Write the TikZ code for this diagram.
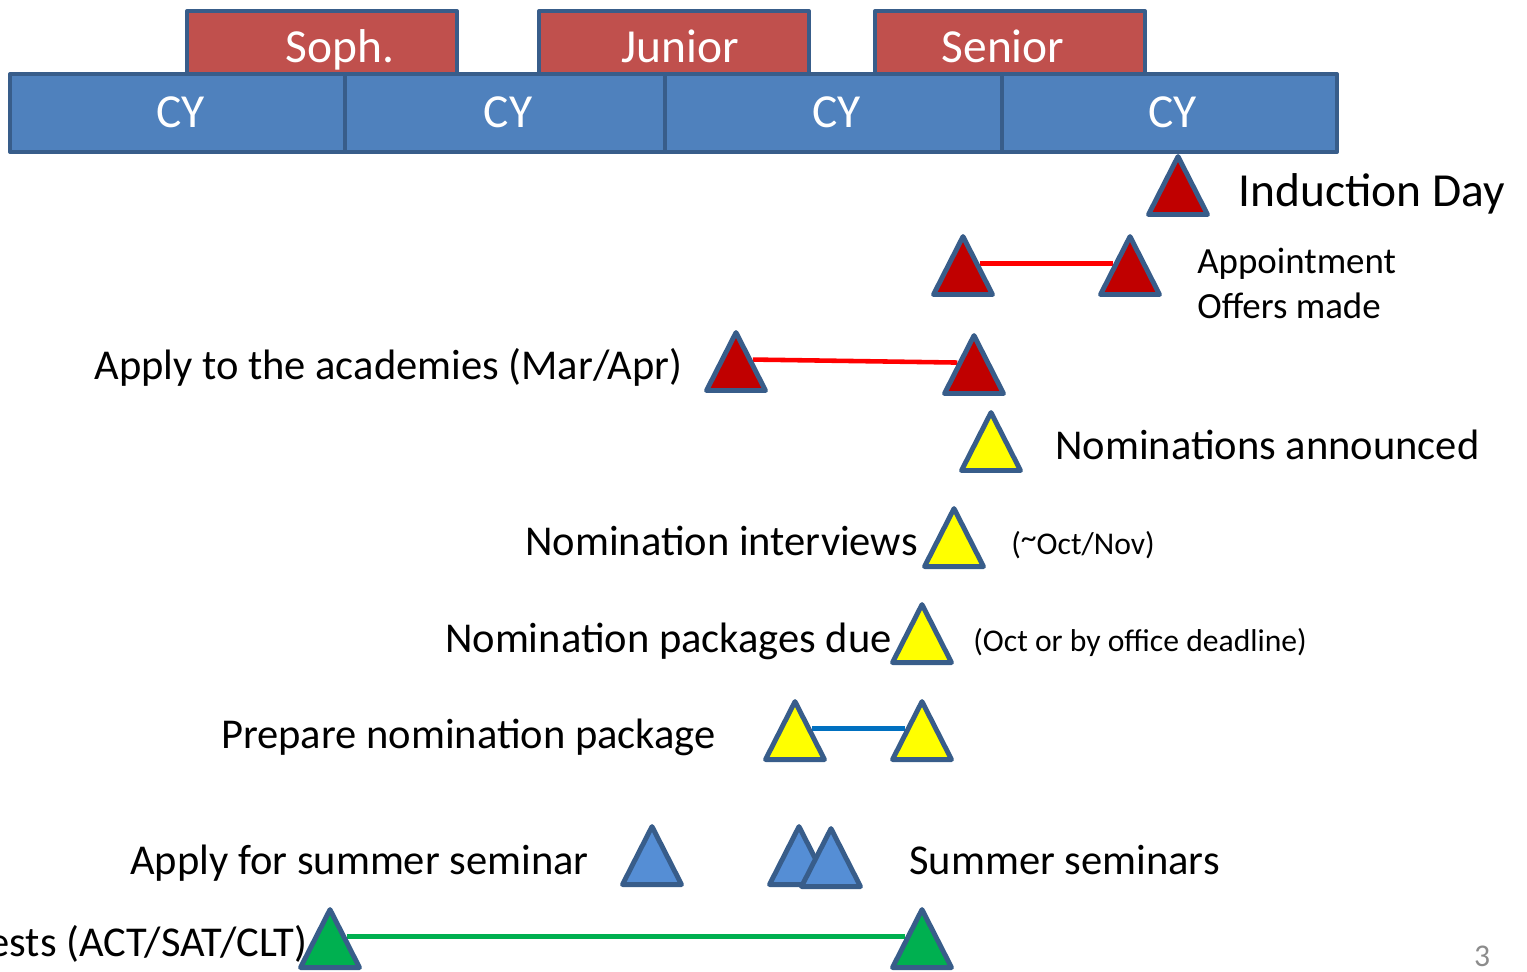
\documentclass[tikz,border=0pt]{standalone}
\usepackage{fontspec}
\setmainfont{Carlito}
\usetikzlibrary{shapes.geometric, backgrounds, positioning}

\definecolor{boxred}{HTML}{C0504D}
\definecolor{boxblue}{HTML}{4F81BD}
\definecolor{edgeblue}{HTML}{385D8A}
\definecolor{trired}{HTML}{C00000}
\definecolor{triyellow}{HTML}{FFFF00}
\definecolor{triblue}{HTML}{558ED5}
\definecolor{trigreen}{HTML}{00B050}
\definecolor{linkred}{HTML}{FF0000}
\definecolor{linkblue}{HTML}{0070C0}
\definecolor{pagegray}{HTML}{8C8C8C}

\tikzset{
  yearbox/.style={draw=edgeblue, line width=2.25pt, line join=round},
  boxtext/.style={text=white, font=\fontsize{27}{32}\selectfont, inner sep=0, anchor=base},
  tri/.style={isosceles triangle, isosceles triangle stretches, shape border rotate=90,
    minimum width=1.18cm, minimum height=1.16cm, inner sep=0, draw=edgeblue,
    line width=2.8pt, line join=round, anchor=lower side},
  hugetxt/.style={font=\fontsize{27}{32}\selectfont, inner sep=0},
  txt/.style={font=\fontsize{24.2}{29}\selectfont, inner sep=0},
  midtxt/.style={font=\fontsize{21}{25}\selectfont, inner sep=0},
  notetxt/.style={font=\fontsize{18}{22}\selectfont, inner sep=0},
  link/.style={line width=2.6pt}
}

\begin{document}
\begin{tikzpicture}[x=0.02cm, y=-0.02cm]
\useasboundingbox (0,0) rectangle (1527,972);
\clip (0,0) rectangle (1527,972);

% Class years on top
\foreach \xa/\xb/\cx/\nm/\yr in {187/457/340/soph/Soph., 539/809/680/junior/Junior, 875/1145/1003/senior/Senior} {
  \draw[yearbox, fill=boxred] (\xa,11) rectangle (\xb,74);
  \node[boxtext] (\nm) at (\cx,63) {\yr};
}

% Calendar years
\foreach \xa/\xb [count=\i] in {10/345, 345/665, 665/1002, 1002/1337} {
  \draw[yearbox, fill=boxblue] (\xa,74) rectangle (\xb,152);
  \node[boxtext] (cy\i) at ({(\xa+\xb)/2+3},128) {CY};
}

% Induction day
\node[tri, fill=trired] (induct) at (1178,217) {};
\node[hugetxt, anchor=base west] (inductlbl) at (1238,207) {Induction Day};

% Appointment offers
\node[tri, fill=trired] (offera) at (963,297) {};
\node[tri, fill=trired] (offerb) at (1130,297) {};
\node[midtxt, anchor=base west] (offerlbl) at (1197,274) {Appointment};
\node[midtxt, anchor=base west] (offerlblb) at (1197,319) {Offers made};

% Apply to the academies
\node[tri, fill=trired] (applya) at (736,393) {};
\node[tri, fill=trired] (applyb) at (974,396) {};
\node[txt, anchor=base east] (applylbl) at (683,380) {Apply to the academies (Mar/Apr)};

% Nominations
\node[tri, fill=triyellow] (announce) at (991,473) {};
\node[txt, anchor=base west] (announcelbl) at (1055,460) {Nominations announced};

\node[tri, fill=triyellow] (interview) at (954,569) {};
\node[txt, anchor=base east] (interviewlbl) at (918,556) {Nomination interviews};
\node[notetxt, anchor=base west] (interviewnote) at (1011,555) {(\raisebox{0.22em}{\textasciitilde}Oct/Nov)};

\node[tri, fill=triyellow] (due) at (922,665) {};
\node[txt, anchor=base east] (duelbl) at (892,652) {Nomination packages due};
\node[notetxt, anchor=base west] (duenote) at (973,651) {(Oct or by office deadline)};

\node[tri, fill=triyellow] (prepa) at (795,762) {};
\node[tri, fill=triyellow] (prepb) at (922,762) {};
\node[txt, anchor=base east] (preplbl) at (716,748) {Prepare nomination package};

% Summer seminars
\node[tri, fill=triblue] (seminar) at (652,887) {};
\node[txt, anchor=base east] (seminarlbl) at (589,874) {Apply for summer seminar};
\node[tri, fill=triblue] (summera) at (799,887) {};
\node[tri, fill=triblue] (summerb) at (831,889) {};
\node[txt, anchor=base west] (summerlbl) at (909,874) {Summer seminars};

% Tests
\node[tri, fill=trigreen] (testa) at (330,970) {};
\node[tri, fill=trigreen] (testb) at (922,970) {};
\node[txt, anchor=base east] (testlbl) at (308,956) {tests (ACT/SAT/CLT)};

% Spans between triangles
\begin{pgfonlayer}{background}
\draw[link, linkred] (offera.right side) -- (offerb.left side);
\draw[link, linkred] (applya.right side) -- (applyb.left side);
\draw[link, linkblue] (prepa.right side) -- (prepb.left side);
\draw[link, trigreen] (testa.right side) -- (testb.left side);
\end{pgfonlayer}

\node[notetxt, text=pagegray] (page) at (1482,956) {3};
\end{tikzpicture}
\end{document}
